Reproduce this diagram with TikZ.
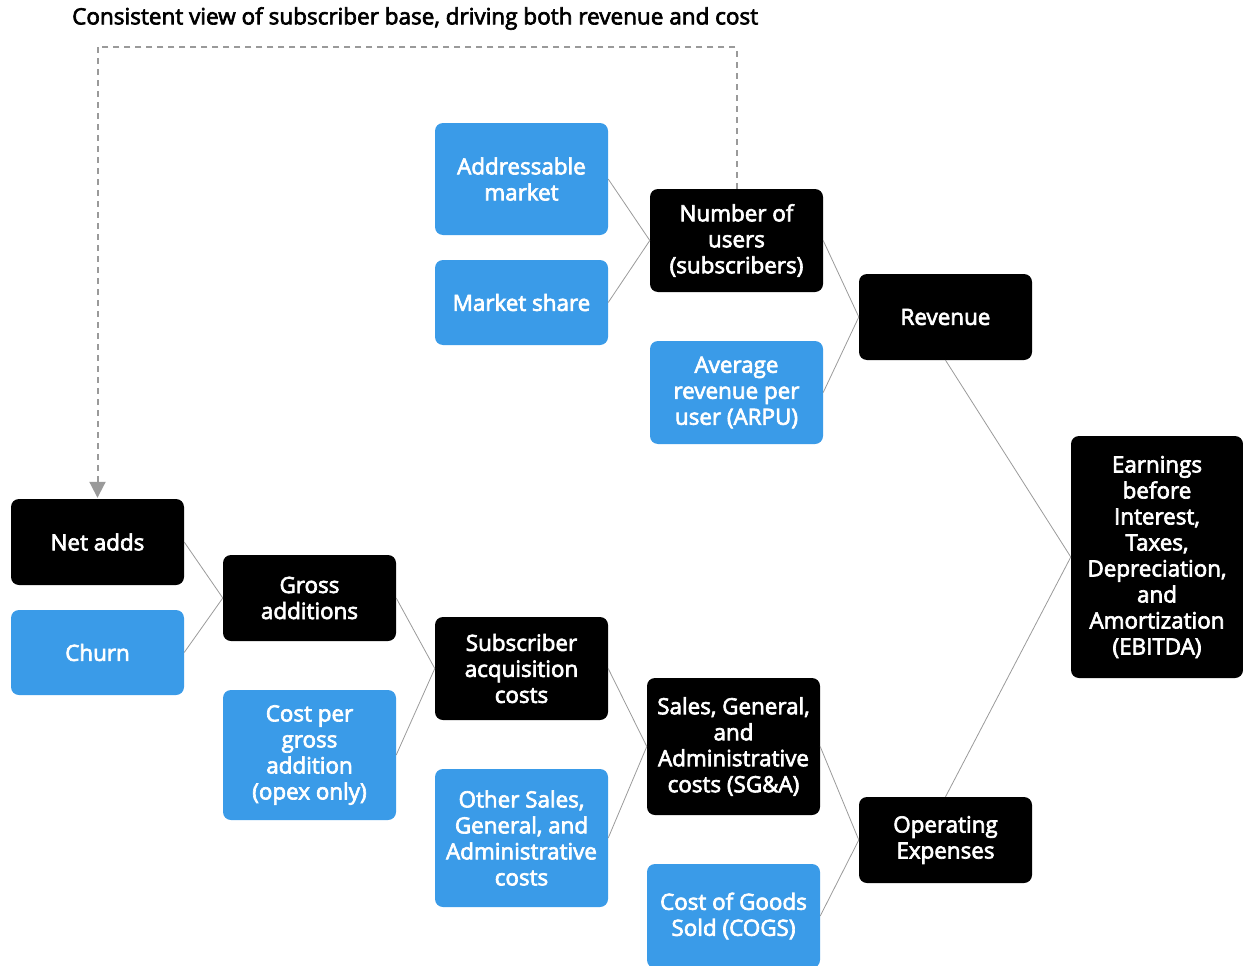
\documentclass[tikz,border=0pt]{standalone}
\usepackage{fontspec}
\setmainfont{Open Sans}[FakeBold=3]
\usetikzlibrary{arrows.meta}
\definecolor{bblue}{HTML}{3A9BE8}
\definecolor{lgray}{HTML}{9A9A9A}
\tikzset{
  box/.style={rounded corners=8pt, text=white, align=center, inner sep=0pt, font=\fontsize{22.4}{26}\selectfont, minimum width=173pt},
  bbox/.style={box, fill=black},
  lbox/.style={box, fill=bblue},
  conn/.style={draw=lgray, line width=0.8pt},
}
\begin{document}
\begin{tikzpicture}[x=1pt,y=-1pt]
\useasboundingbox (0,0) rectangle (1243,966);
\node[anchor=west, inner sep=0pt, font=\fontsize{22.5}{24}\selectfont] (title) at (72,18.5) {Consistent view of subscriber base, driving both revenue and cost};
% top group
\node[lbox, minimum height=112pt] (am) at (521.5,179) {Addressable\\market};
\node[lbox, minimum height=85pt] (ms) at (521.5,302.5) {Market share};
\node[bbox, minimum height=103pt] (nu) at (736.5,240.5) {Number of\\users\\(subscribers)};
\node[lbox, minimum height=103pt] (arpu) at (736.5,392.5) {Average\\revenue per\\user (ARPU)};
\node[bbox, minimum height=86pt] (rev) at (945.5,317) {Revenue};
\node[bbox, minimum height=242pt, minimum width=172pt] (ebitda) at (1157,557) {Earnings\\before\\Interest,\\Taxes,\\Depreciation,\\and\\Amortization\\(EBITDA)};
% bottom group
\node[bbox, minimum height=86pt] (na) at (97.5,542) {Net adds};
\node[lbox, minimum height=85pt] (ch) at (97.5,652.5) {Churn};
\node[bbox, minimum height=86pt] (ga) at (309.5,598) {Gross\\additions};
\node[lbox, minimum height=130pt] (cpga) at (309.5,755) {Cost per\\gross\\addition\\(opex only)};
\node[bbox, minimum height=103pt] (sac) at (521.5,668.5) {Subscriber\\acquisition\\costs};
\node[lbox, minimum height=138pt] (osga) at (521.5,838) {Other Sales,\\General, and\\Administrative\\costs};
\node[bbox, minimum height=137pt] (sga) at (733.5,746.5) {Sales, General,\\and\\Administrative\\costs (SG\&A)};
\node[bbox, minimum height=86pt] (opex) at (945.5,840) {Operating\\Expenses};
\node[lbox, minimum height=104pt] (cogs) at (733.5,916) {Cost of Goods\\Sold (COGS)};
% connectors
\draw[conn] (am.east) -- (nu.west);
\draw[conn] (ms.east) -- (nu.west);
\draw[conn] (nu.east) -- (rev.west);
\draw[conn] (arpu.east) -- (rev.west);
\draw[conn] (rev.south) -- (ebitda.west);
\draw[conn] (opex.north) -- (ebitda.west);
\draw[conn] (na.east) -- (ga.west);
\draw[conn] (ch.east) -- (ga.west);
\draw[conn] (ga.east) -- (sac.west);
\draw[conn] (cpga.east) -- (sac.west);
\draw[conn] (sac.east) -- (sga.west);
\draw[conn] (osga.east) -- (sga.west);
\draw[conn] (sga.east) -- (opex.west);
\draw[conn] (cogs.east) -- (opex.west);
% dashed feedback
\coordinate (c1) at (736.5,47);
\coordinate (c2) at (97.5,47);
\draw[draw=lgray, line width=2pt, dash pattern=on 6pt off 5pt, -{Triangle[width=16pt,length=16pt]}, shorten >=1pt] (nu.north) -- (c1) -- (c2) -- (na.north);
\end{tikzpicture}
\end{document}
